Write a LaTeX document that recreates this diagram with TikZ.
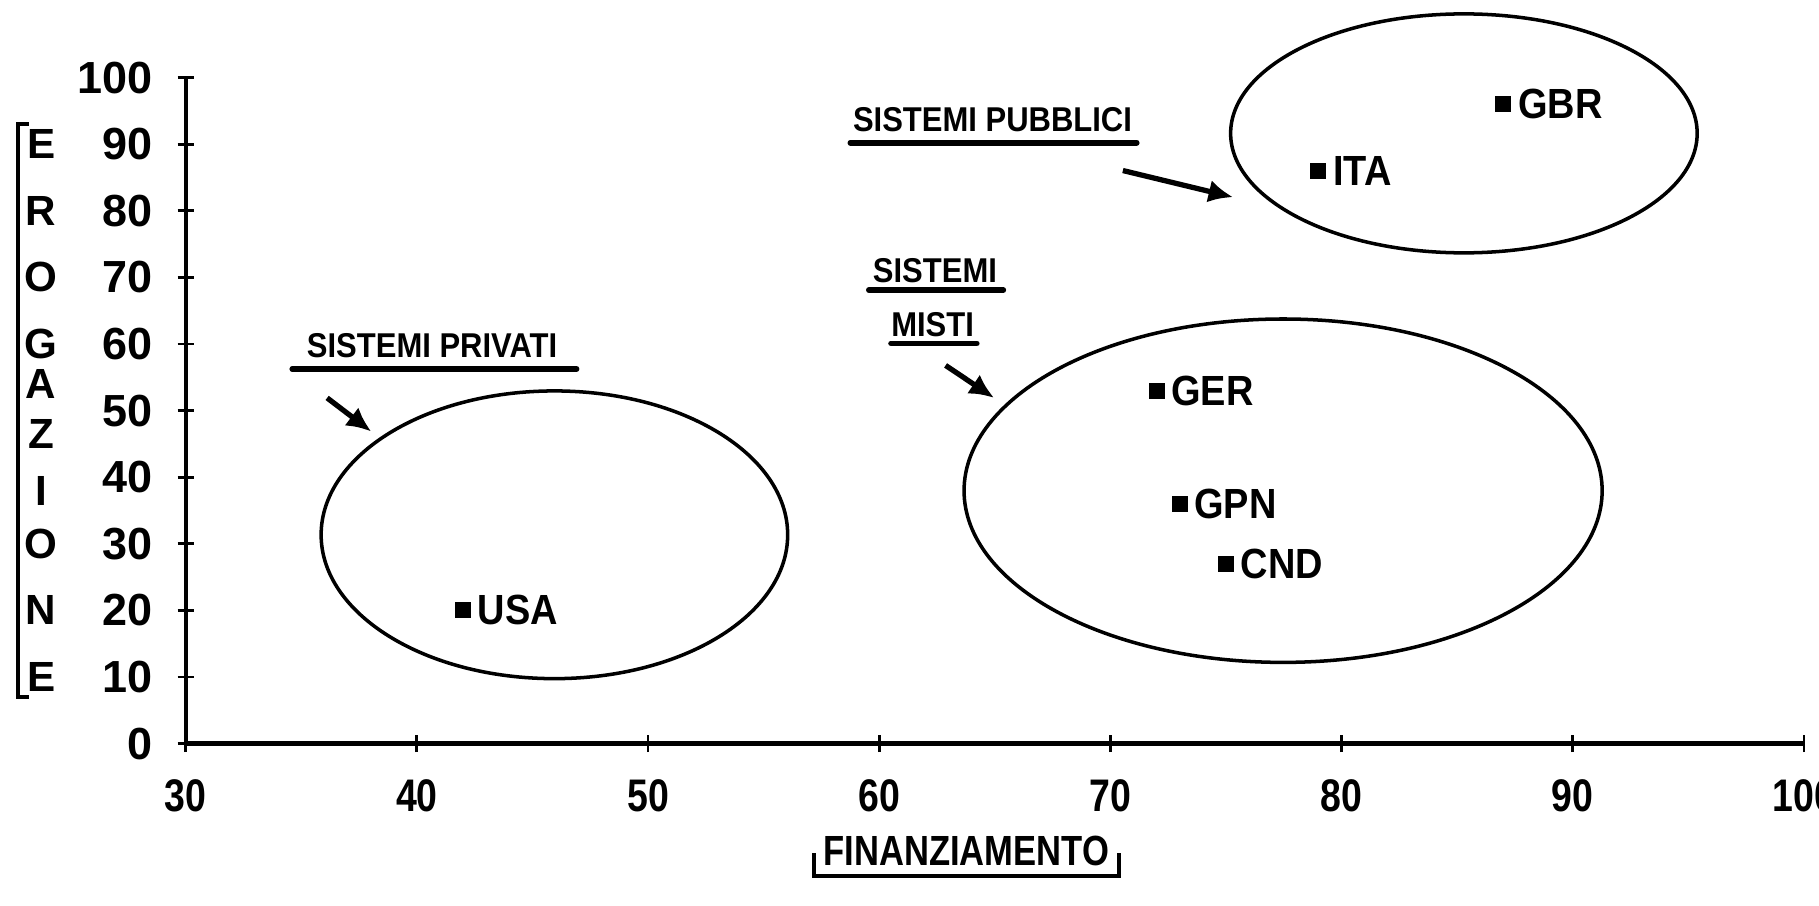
\documentclass[tikz,border=0pt]{standalone}
\usepackage{fontspec}
\setmainfont{Liberation Sans}
\newfontfamily\narrowfont[FakeStretch=0.82]{Liberation Sans}
\newfontfamily\condfont[FakeStretch=0.9]{Liberation Sans}
\usetikzlibrary{arrows.meta}
\tikzset{
    marker/.style={fill, rectangle, minimum size=0.16cm, inner sep=0pt},
    country/.style={font=\condfont\bfseries\fontsize{12}{12}\selectfont, inner sep=0pt, label distance=1.5pt},
    yticklabel/.style={font=\bfseries\fontsize{12.8}{13}\selectfont, inner sep=0pt, anchor=east},
    xticklabel/.style={font=\narrowfont\bfseries\fontsize{13}{13}\selectfont, inner sep=0pt},
    grouplabel/.style={font=\condfont\bfseries\fontsize{9.8}{10}\selectfont, inner sep=0pt},
    underline/.style={line width=1.6pt, line cap=round},
    pointer/.style={line width=1.5pt, -{Latex[length=7pt,width=6.5pt]}},
}
\begin{document}
\begin{tikzpicture}[x=0.2312cm, y=0.0666cm]
    \useasboundingbox (21.97,-24.38) rectangle (100.65,111.65);
    % axes
    \draw[line width=1.2pt] (30,100) -- (30,0) -- (100,0);
    \foreach \y in {0,10,...,100} {
        \draw[line width=0.8pt] (29.65,\y) -- (30.35,\y);
        \node[yticklabel] (ylab\y) at (28.6,\y) {\y};
    }
    \foreach \x in {30,40,...,100} {
        \draw[line width=0.8pt] (\x,-1.3) -- (\x,1.3);
        \node[xticklabel] (xlab\x) at (\x,-7.85) {\x};
    }
    % axis titles
    \foreach \ch/\y [count=\i] in {E/90, R/80, O/70, G/60, A/54, Z/46.5, I/38, O/30, N/20, E/10}
        \node[font=\bfseries\fontsize{12}{12}\selectfont, inner sep=0pt] (ero\i) at (23.75,\y) {\ch};
    \coordinate (brtop) at (22.75,93);
    \coordinate (brbot) at (22.75,7);
    \draw[line width=1.2pt] ([xshift=3pt]brtop) -- (brtop) -- (brbot) -- ([xshift=3pt]brbot);
    \node[font=\narrowfont\bfseries\fontsize{12}{12}\selectfont, inner sep=1pt] (fin) at (63.77,-16.2) {FINANZIAMENTO};
    \draw[line width=1.2pt] ([xshift=-1.5pt,yshift=5pt]fin.south west) -- ([xshift=-1.5pt,yshift=-1.5pt]fin.south west)
        -- ([xshift=1.5pt,yshift=-1.5pt]fin.south east) -- ([xshift=1.5pt,yshift=5pt]fin.south east);
    % groups
    \draw[line width=1pt] (45.95,31.35) ellipse (10.09 and 21.6);
    \draw[line width=1pt] (77.47,37.97) ellipse (13.8 and 25.78);
    \draw[line width=1pt] (85.29,91.62) ellipse (10.09 and 17.94);
    \node[grouplabel] (priv) at (40.66,59.74) {SISTEMI PRIVATI};
    \draw[underline] (34.61,56.25) -- (46.91,56.25);
    \node[grouplabel] (pubb) at (64.9,93.71) {SISTEMI PUBBLICI};
    \draw[underline] (58.75,90.22) -- (71.14,90.22);
    \node[grouplabel] (mist1) at (62.41,71.06) {SISTEMI};
    \draw[underline] (59.55,68.1) -- (65.37,68.1);
    \node[grouplabel] (mist2) at (62.31,62.88) {MISTI};
    \draw[underline] (60.51,60.09) -- (64.22,60.09);
    \coordinate (privfrom) at (36.12,51.9);
    \coordinate (privto) at (38.03,46.85);
    \coordinate (pubbfrom) at (70.54,86.04);
    \coordinate (pubbto) at (75.31,82.04);
    \coordinate (mistfrom) at (62.87,56.78);
    \coordinate (mistto) at (64.97,51.9);
    \draw[pointer] (privfrom) -- (privto);
    \draw[pointer] (pubbfrom) -- (pubbto);
    \draw[pointer] (mistfrom) -- (mistto);
    % countries
    \node[marker, label={[country]right:USA}] (usa) at (42,20) {};
    \node[marker, label={[country]right:GBR}] (gbr) at (87,96) {};
    \node[marker, label={[country]right:ITA}] (ita) at (79,86) {};
    \node[marker, label={[country]right:GER}] (ger) at (72,53) {};
    \node[marker, label={[country]right:GPN}] (gpn) at (73,36) {};
    \node[marker, label={[country]right:CND}] (cnd) at (75,27) {};
\end{tikzpicture}
\end{document}
